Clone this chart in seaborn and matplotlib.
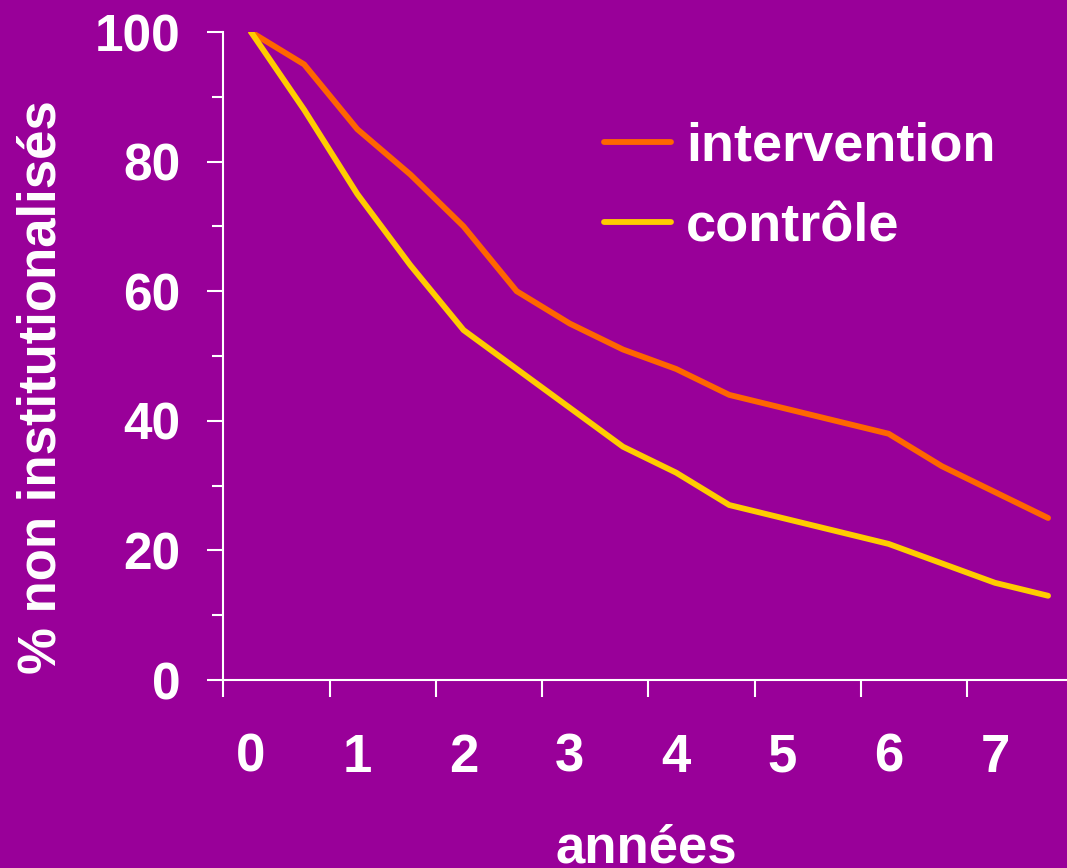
import numpy as np
import pandas as pd
import matplotlib
matplotlib.use("Agg")
import matplotlib.pyplot as plt
import seaborn as sns

# ---- data ----
annees = [0, 0.5, 1, 1.5, 2, 2.5, 3, 3.5, 4, 4.5, 5, 5.5, 6, 6.5, 7, 7.5]
intervention = [100, 95, 85, 78, 70, 60, 55, 51, 48, 44, 42, 40, 38, 33, 29, 25]
controle = [100, 88, 75, 64, 54, 48, 42, 36, 32, 27, 25, 23, 21, 18, 15, 13]
groupes = ["intervention", "contrôle"]
x_labels = ["0", "1", "2", "3", "4", "5", "6", "7"]
y_ticks = [0, 20, 40, 60, 80, 100]

df = pd.DataFrame({
    "annee": annees * 2,
    "pct": intervention + controle,
    "groupe": [groupes[0]] * len(annees) + [groupes[1]] * len(annees),
})

BG = "#990099"
sns.set_style("white")
plt.rcParams["font.family"] = ["Liberation Sans", "DejaVu Sans"]
plt.rcParams["font.weight"] = "bold"

W, H = 1067, 868
fig = plt.figure(figsize=(W / 100, H / 100), dpi=100, facecolor=BG)
ax = fig.add_axes([223 / W, 1 - 680 / H, (W - 223) / W, (680 - 32) / H])
ax.set_facecolor(BG)

sns.lineplot(data=df, x="annee", y="pct", hue="groupe", hue_order=groupes,
             palette={"intervention": "#FF6600", "contrôle": "#FFCC00"},
             linewidth=4.2, errorbar=None, legend=False, ax=ax)
for ln in ax.lines:
    ln.set_solid_capstyle("round")
    ln.set_solid_joinstyle("miter")

ax.set_xlim(-0.2635, 7.678)
ax.set_ylim(0, 100)

for s in ["top", "right"]:
    ax.spines[s].set_visible(False)
for s in ["left", "bottom"]:
    ax.spines[s].set_color("white")
    ax.spines[s].set_linewidth(1.5)

# x: tick marks between labels, labels at integer years
ax.set_xticks(np.arange(8) - 0.26)
ax.set_xticklabels([])
ax.set_xticks(np.arange(8), minor=True)
ax.set_xticklabels(x_labels, minor=True)
ax.tick_params(axis="x", which="major", direction="out", length=12.2, width=1.5,
               color="white", bottom=True)
ax.tick_params(axis="x", which="minor", length=0, pad=38, labelsize=38,
               labelcolor="white", bottom=True)

ax.set_yticks(y_ticks)
ax.set_yticks(np.arange(10, 100, 20), minor=True)
ax.tick_params(axis="y", which="major", direction="out", length=11.5, width=1.5,
               color="white", pad=19, labelsize=37, labelcolor="white", left=True)
ax.tick_params(axis="y", which="minor", direction="out", length=8, width=1.5,
               color="white", left=True)
for t in ax.get_xticklabels(minor=True) + ax.get_yticklabels():
    t.set_fontweight("bold")

ax.set_xlabel("années", fontsize=38, fontweight="bold", color="white", va="baseline")
ax.xaxis.set_label_coords(0.502, -0.2824)
ax.set_ylabel("% non institutionalisés", fontsize=38, fontweight="bold",
              color="white", va="baseline")
ax.yaxis.set_label_coords(-0.1979, 0.452)

leg = ax.legend(ax.lines[:2], groupes, loc="center left",
                bbox_to_anchor=(0.4514, 0.7608), borderaxespad=0, borderpad=0,
                frameon=False, handlelength=1.24, handletextpad=0.28,
                labelspacing=0.57, prop={"family": "Liberation Sans",
                                         "weight": "bold", "size": 39})
for t in leg.get_texts():
    t.set_color("white")

fig.savefig("out.png", dpi=100, facecolor=BG)
